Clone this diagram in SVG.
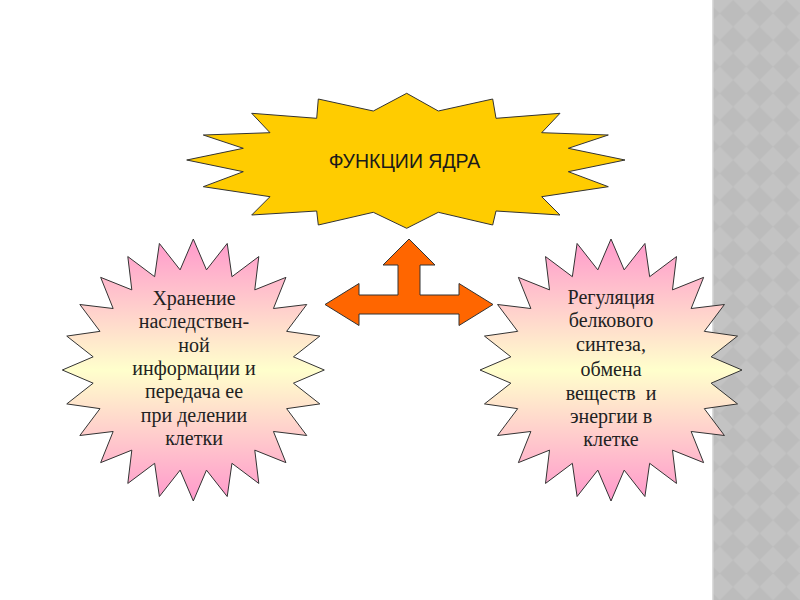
<svg xmlns="http://www.w3.org/2000/svg" xmlns:xlink="http://www.w3.org/1999/xlink" width="800" height="600" viewBox="0 0 800 600">
<style>
.outline{stroke:#333;stroke-width:1;stroke-linejoin:miter}
.title{font-family:"Liberation Sans",Arial,sans-serif;font-size:19.5px;fill:#1a1a1a;text-anchor:middle}
.body{font-family:"Liberation Serif","Times New Roman",serif;font-size:20px;fill:#222;text-anchor:middle}
</style>
<defs>
<pattern id="diamonds" x="719.7" y="0" width="26.67" height="26.67" patternUnits="userSpaceOnUse">
<rect width="26.67" height="26.67" fill="#c3c3c3"/>
<polygon points="13.33,0 26.67,13.33 13.33,26.67 0,13.33" fill="#bcbcbc"/>
</pattern>
<linearGradient id="pinkGrad" x1="0" y1="0" x2="0" y2="1">
<stop offset="0" stop-color="#FF99CC"/>
<stop offset="0.5" stop-color="#FFFFCC"/>
<stop offset="1" stop-color="#FF99CC"/>
</linearGradient>
<polygon id="star24" points="131,0 100.14,13.18 126.54,33.91 93.31,38.65 113.45,65.5 80.13,61.48 92.63,92.63 61.48,80.13 65.5,113.45 38.65,93.31 33.91,126.54 13.18,100.14 0,131 -13.18,100.14 -33.91,126.54 -38.65,93.31 -65.5,113.45 -61.48,80.13 -92.63,92.63 -80.13,61.48 -113.45,65.5 -93.31,38.65 -126.54,33.91 -100.14,13.18 -131,0 -100.14,-13.18 -126.54,-33.91 -93.31,-38.65 -113.45,-65.5 -80.13,-61.48 -92.63,-92.63 -61.48,-80.13 -65.5,-113.45 -38.65,-93.31 -33.91,-126.54 -13.18,-100.14 0,-131 13.18,-100.14 33.91,-126.54 38.65,-93.31 65.5,-113.45 61.48,-80.13 92.63,-92.63 80.13,-61.48 113.45,-65.5 93.31,-38.65 126.54,-33.91 100.14,-13.18"/>
</defs>
<rect width="800" height="600" fill="#ffffff"/>
<g id="background-strip">
<rect x="713" y="0" width="87" height="600" fill="url(#diamonds)"/>
<rect x="712" y="0" width="1.5" height="600" fill="#dcdcdc"/>
</g>
<g id="node-title">
<polygon class="outline" fill="#FFCC00" points="406.7,93.3 438.3,111 492.7,99 496,118.3 560,113.3 541.7,132.7 608.3,135 568.3,148.3 625,160 568.3,171.7 608.3,186.7 541.7,196.7 560,215 496,211 492.7,225 438.3,212.3 406.7,228.3 373.3,212.3 318.3,225 316.7,211 251.7,215 270,196.7 203.3,186.7 243.3,171.7 186.7,160 243.3,148.3 203.3,135 270,132.7 251.7,113.3 316.7,118.3 318.3,99 373.3,111"/>
<text class="title" x="404.5" y="168">ФУНКЦИИ ЯДРА</text>
</g>
<g id="connectors">
<polygon class="outline" fill="#FF6600" points="409,239 435,265 420,265 420,295 459,295 459,283.5 493,304.5 459,325.5 459,314 359,314 359,325.5 325,304.5 359,283.5 359,295 398,295 398,265 383,265"/>
</g>
<g id="node-left">
<use xlink:href="#star24" href="#star24" transform="translate(193.3,370)" class="outline" fill="url(#pinkGrad)"/>
<text class="body" x="194" y="305">Хранение</text>
<text class="body" x="194" y="328.3">наследствен-</text>
<text class="body" x="194" y="351.7">ной</text>
<text class="body" x="194" y="375">информации и</text>
<text class="body" x="194" y="398.3">передача ее</text>
<text class="body" x="194" y="421.7">при делении</text>
<text class="body" x="194" y="445">клетки</text>
</g>
<g id="node-right">
<use xlink:href="#star24" href="#star24" transform="translate(611,370)" class="outline" fill="url(#pinkGrad)"/>
<text class="body" x="611" y="304">Регуляция</text>
<text class="body" x="611" y="327.3">белкового</text>
<text class="body" x="611" y="351">синтеза,</text>
<text class="body" x="611" y="375.5">обмена</text>
<text class="body" x="611" y="399.5" xml:space="preserve">веществ  и</text>
<text class="body" x="611" y="423">энергии в</text>
<text class="body" x="611" y="446">клетке</text>
</g>
</svg>
